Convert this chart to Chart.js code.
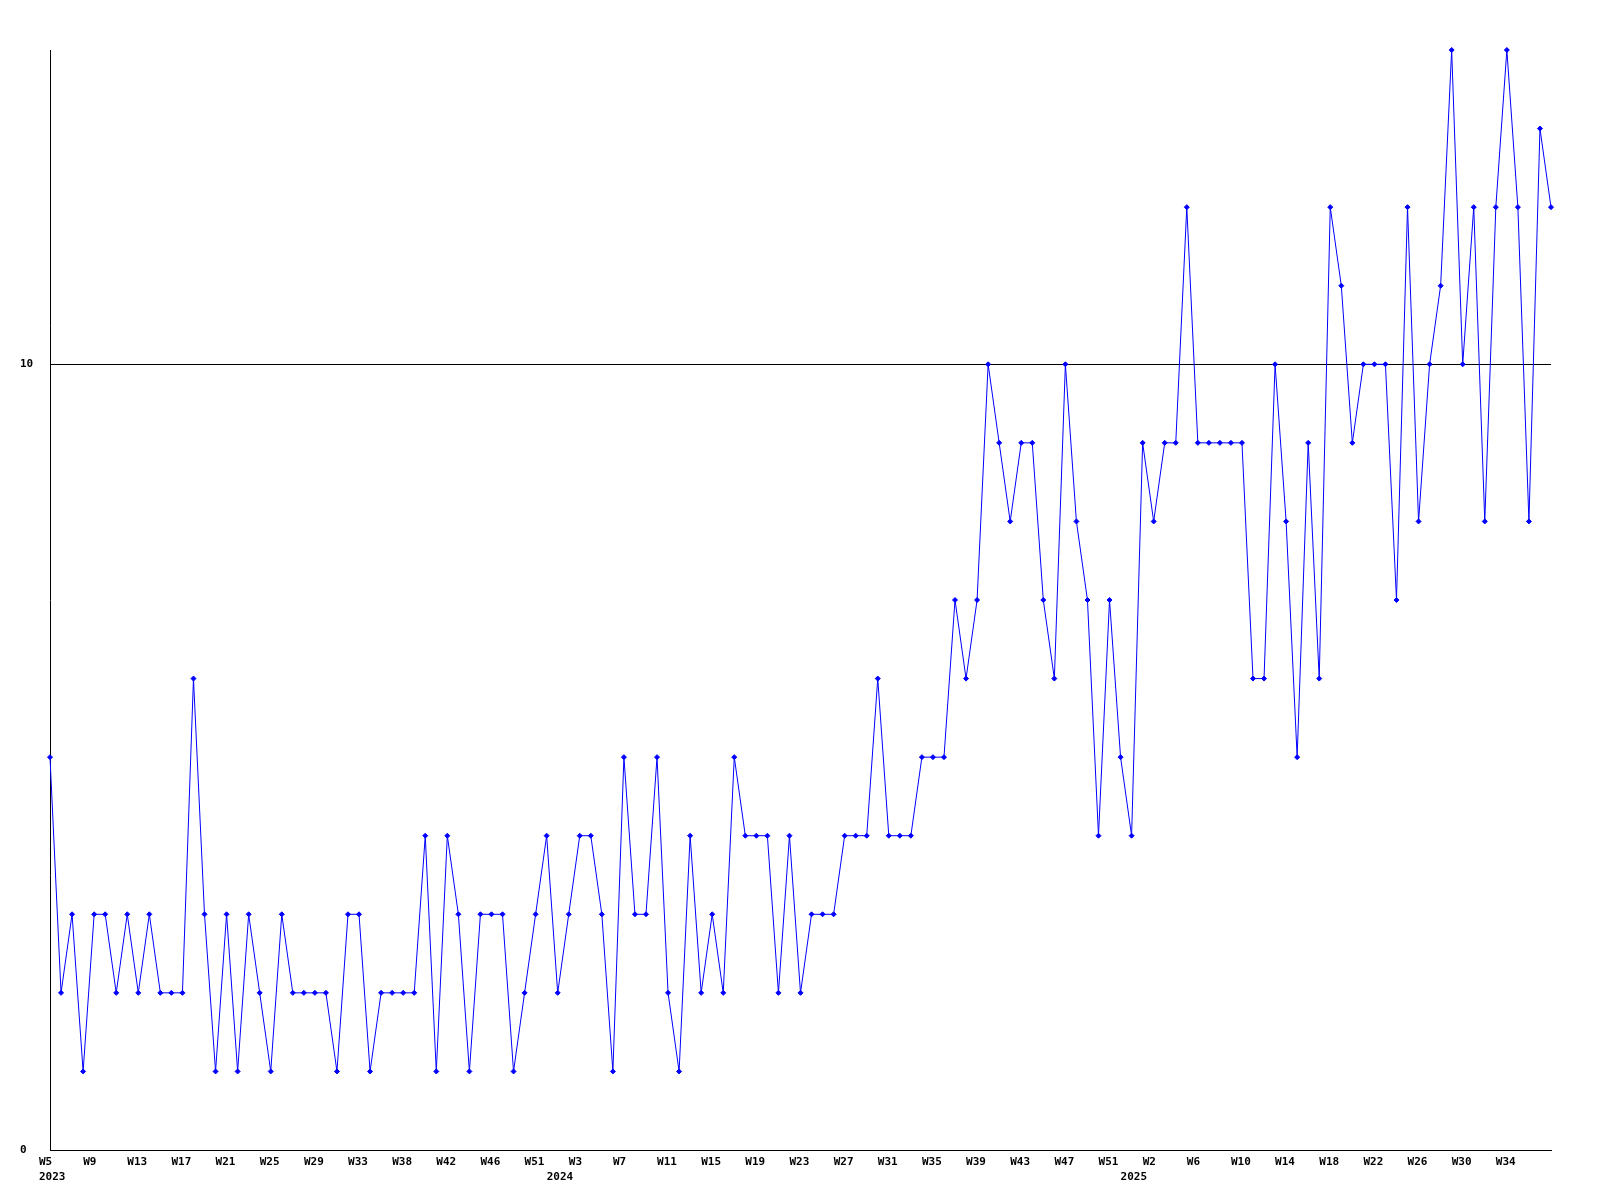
<!DOCTYPE html>
<html>
<head>
<meta charset="utf-8">
<title>Weekly count</title>
<script src="https://cdn.jsdelivr.net/npm/chart.js@4.4.1/dist/chart.umd.min.js"></script>
<style>
    html, body { margin: 0; padding: 0; background: #ffffff; }
    #weeklyChart { display: block; }
</style>
</head>
<body>
<canvas id="weeklyChart" width="1600" height="1200"></canvas>
<script>
// one value per week, oldest first
const weeklyValues = [
    5, 2, 3, 1, 3, 3, 2, 3, 2, 3,
    2, 2, 2, 6, 3, 1, 3, 1, 3, 2,
    1, 3, 2, 2, 2, 2, 1, 3, 3, 1,
    2, 2, 2, 2, 4, 1, 4, 3, 1, 3,
    3, 3, 1, 2, 3, 4, 2, 3, 4, 4,
    3, 1, 5, 3, 3, 5, 2, 1, 4, 2,
    3, 2, 5, 4, 4, 4, 2, 4, 2, 3,
    3, 3, 4, 4, 4, 6, 4, 4, 4, 5,
    5, 5, 7, 6, 7, 10, 9, 8, 9, 9,
    7, 6, 10, 8, 7, 4, 7, 5, 4, 9,
    8, 9, 9, 12, 9, 9, 9, 9, 9, 6,
    6, 10, 8, 5, 9, 6, 12, 11, 9, 10,
    10, 10, 7, 12, 8, 10, 11, 14, 10, 12,
    8, 12, 14, 12, 8, 13, 12
];

// a week label is shown on every 4th point
const weekTicks = ['W5', 'W9', 'W13', 'W17', 'W21', 'W25', 'W29', 'W33', 'W38', 'W42', 'W46', 'W51',
    'W3', 'W7', 'W11', 'W15', 'W19', 'W23', 'W27', 'W31', 'W35', 'W39', 'W43', 'W47', 'W51',
    'W2', 'W6', 'W10', 'W14', 'W18', 'W22', 'W26', 'W30', 'W34'];
const weekTickStep = 4;

const yearTicks = ['2023', '2024', '2025'];
const yearTickIndex = [0, 46, 98];

const yTickValues = [0, 10];
const yMax = 14;

function buildLabels() {
    return weeklyValues.map((v, i) => {
        const week = (i % weekTickStep === 0 && weekTicks[i / weekTickStep]) ? weekTicks[i / weekTickStep] : '';
        const y = yearTickIndex.indexOf(i);
        if (y >= 0) return [week, yearTicks[y]];
        return week;
    });
}

function initWeeklyChart() {
    const ctx = document.getElementById('weeklyChart').getContext('2d');
    const tickFont = { family: '"DejaVu Sans Mono", "Liberation Mono", monospace', size: 11, weight: 'bold', lineHeight: 1.4 };

    new Chart(ctx, {
        type: 'line',
        data: {
            labels: buildLabels(),
            datasets: [{
                data: weeklyValues,
                borderColor: '#0000ff',
                backgroundColor: '#0000ff',
                borderWidth: 1,
                tension: 0,
                pointStyle: 'rectRot',
                pointRadius: 2.5,
                pointBorderWidth: 1,
                pointBorderColor: '#0000ff',
                pointBackgroundColor: '#0000ff',
                clip: false
            }]
        },
        options: {
            responsive: false,
            devicePixelRatio: 1,
            animation: false,
            events: [],
            layout: { padding: { top: 50, left: 20, right: 49, bottom: 0 } },
            plugins: {
                legend: { display: false },
                tooltip: { enabled: false }
            },
            scales: {
                x: {
                    offset: false,
                    grid: { display: false, drawTicks: false },
                    border: { display: true, color: '#000000', width: 1 },
                    ticks: {
                        autoSkip: false,
                        maxRotation: 0,
                        minRotation: 0,
                        align: 'start',
                        labelOffset: -11,
                        padding: 4,
                        color: '#000000',
                        font: tickFont
                    },
                    afterFit: (scale) => { scale.height = 50; }
                },
                y: {
                    min: 0,
                    max: yMax,
                    grid: { color: '#000000', lineWidth: 1, drawTicks: false },
                    border: { display: true, color: '#000000', width: 1 },
                    ticks: {
                        crossAlign: 'far',
                        color: '#000000',
                        font: tickFont
                    },
                    afterBuildTicks: (scale) => {
                        scale.ticks = yTickValues.map(v => ({ value: v }));
                    },
                    afterFit: (scale) => { scale.width = 30; }
                }
            }
        }
    });
}

document.addEventListener('DOMContentLoaded', initWeeklyChart);
</script>
</body>
</html>
